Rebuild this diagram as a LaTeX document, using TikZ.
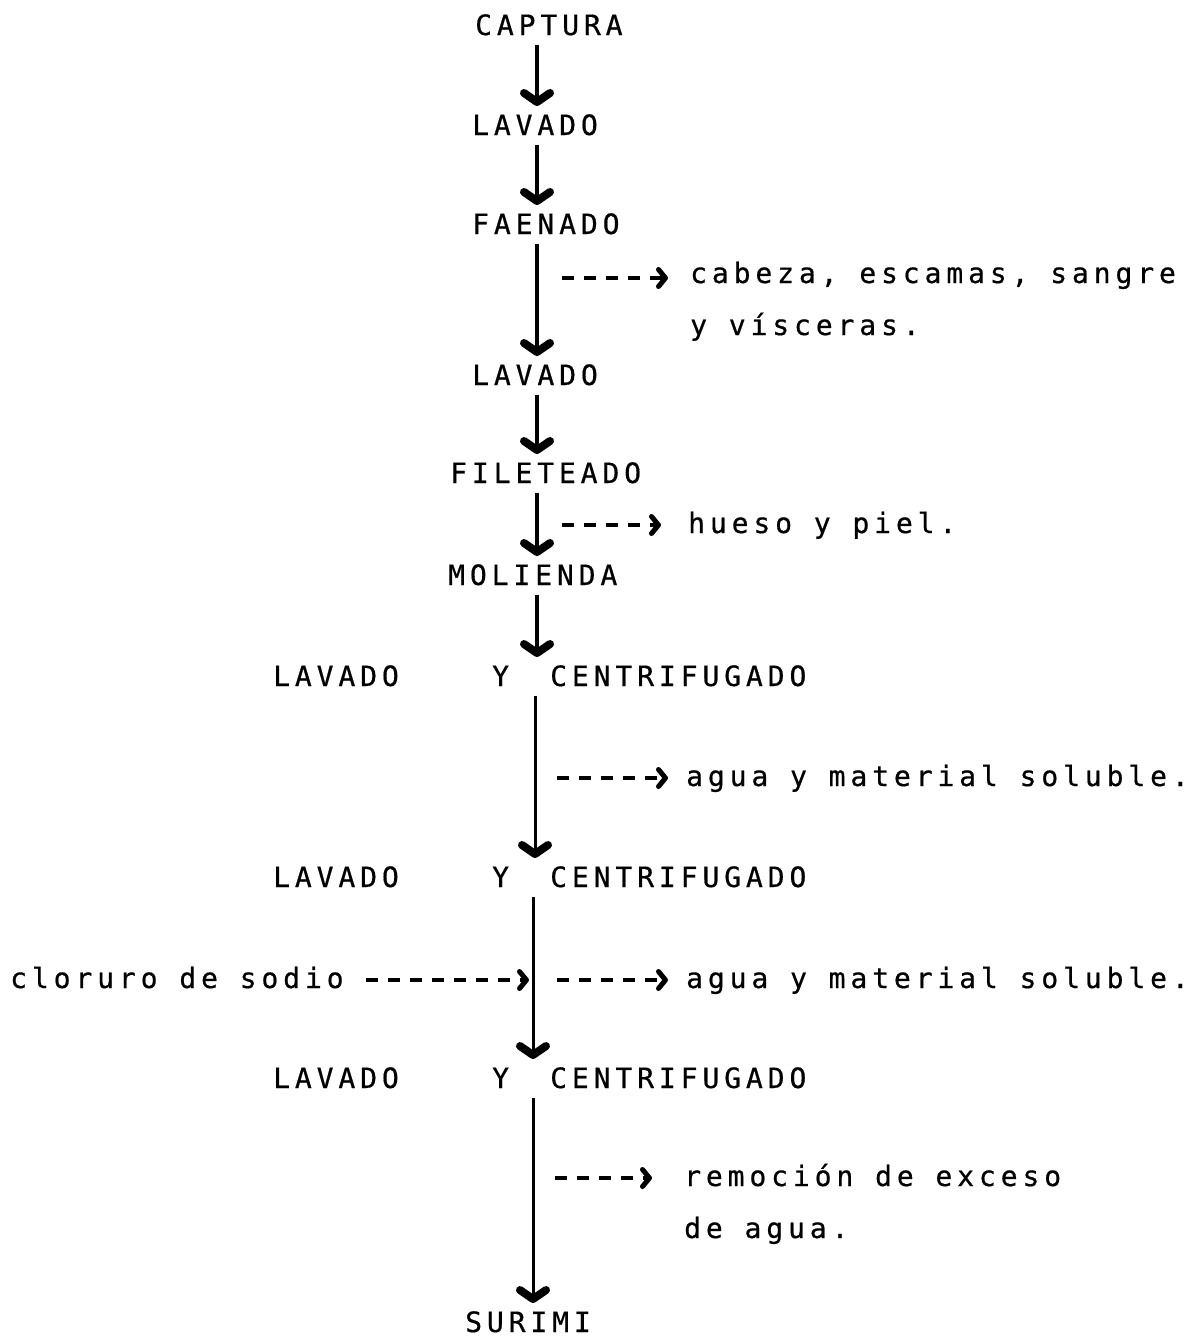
\documentclass[tikz,border=0pt]{standalone}
\usepackage{fontspec}
\newfontfamily\tw[LetterSpace=17.5,FakeBold=0.6]{DejaVu Sans Mono}
\usetikzlibrary{arrows.meta}
\begin{document}
\begin{tikzpicture}[x=1pt,y=-1pt,
  lbl/.style={anchor=base west, inner sep=0pt, font=\tw\fontsize{28}{32}\selectfont},
  flow/.style={line width=4.5pt, -{Straight Barb[length=9pt,width=26pt,line width=8pt,round]}, shorten <=9pt, shorten >=8pt},
  flowthin/.style={flow, line width=3pt},
  side/.style={line width=4pt, dash pattern=on 12pt off 10pt, -{Straight Barb[length=7pt,width=17pt,line width=5pt,round]}}]
\fill[white] (0,0) rectangle (1200,1339);
\useasboundingbox (0,0) rectangle (1200,1339);

% nodes
\node[lbl] (captura) at (475,35) {CAPTURA};
\node[lbl] (lav1) at (472,135) {LAVADO};
\node[lbl] (faenado) at (472,234) {FAENADO};
\node[lbl] (cabeza) at (690,283) {cabeza, escamas, sangre};
\node[lbl] (visceras) at (690,335) {y vísceras.};
\node[lbl] (lav2) at (472,385) {LAVADO};
\node[lbl] (filete) at (450,483) {FILETEADO};
\node[lbl] (hueso) at (688,533) {hueso y piel.};
\node[lbl] (molienda) at (448,585) {MOLIENDA};
\node[lbl] (ra1) at (273,686) {LAVADO};
\node[lbl] (rb1) at (492,686) {Y};
\node[lbl] (rc1) at (550,686) {CENTRIFUGADO};
\node[lbl] (agua1) at (686,786) {agua y material soluble.};
\node[lbl] (ra2) at (273,887) {LAVADO};
\node[lbl] (rb2) at (492,887) {Y};
\node[lbl] (rc2) at (550,887) {CENTRIFUGADO};
\node[lbl] (cloruro) at (10,988) {cloruro de sodio};
\node[lbl] (agua2) at (686,988) {agua y material soluble.};
\node[lbl] (ra3) at (273,1088) {LAVADO};
\node[lbl] (rb3) at (492,1088) {Y};
\node[lbl] (rc3) at (550,1088) {CENTRIFUGADO};
\node[lbl] (remocion) at (684,1186) {remoción de exceso};
\node[lbl] (deagua) at (684,1238) {de agua.};
\node[lbl] (surimi) at (465,1332) {SURIMI};

% spines
\coordinate (s1) at (537,0);
\coordinate (s2) at (535,0);
\coordinate (s3) at (533,0);

\draw[flow] (captura.south -| s1) -- (lav1.north -| s1);
\draw[flow] (lav1.south -| s1) -- (faenado.north -| s1);
\draw[flow] (faenado.south -| s1) -- (lav2.north -| s1);
\draw[flow] (lav2.south -| s1) -- (filete.north -| s1);
\draw[flow] (filete.south -| s1) -- (molienda.north -| s1);
\draw[flow] (molienda.south -| s1) -- (rc1.north -| s1);
\draw[flowthin] (rc1.south -| s2) -- (rc2.north -| s2);
\draw[flowthin] (rc2.south -| s3) -- (rc3.north -| s3);
\draw[flowthin] (rc3.south -| s3) -- (surimi.north -| s3);

% side branches
\coordinate (d1) at (562,278);
\coordinate (d2) at (562,525);
\coordinate (d3) at (557,778);
\coordinate (d4) at (557,980);
\coordinate (d5) at (555,1178);
\coordinate (c4) at (529,980);
\draw[side, shorten >=22pt] (d1) -- (d1 -| cabeza.west);
\draw[side, shorten >=27pt] (d2) -- (d2 -| hueso.west);
\draw[side, shorten >=18pt] (d3) -- (d3 -| agua1.west);
\draw[side, shorten >=18pt] (d4) -- (d4 -| agua2.west);
\draw[side, shorten >=32pt] (d5) -- (d5 -| remocion.west);
\draw[side, shorten <=22pt] (c4 -| cloruro.east) -- (c4);
\end{tikzpicture}
\end{document}
